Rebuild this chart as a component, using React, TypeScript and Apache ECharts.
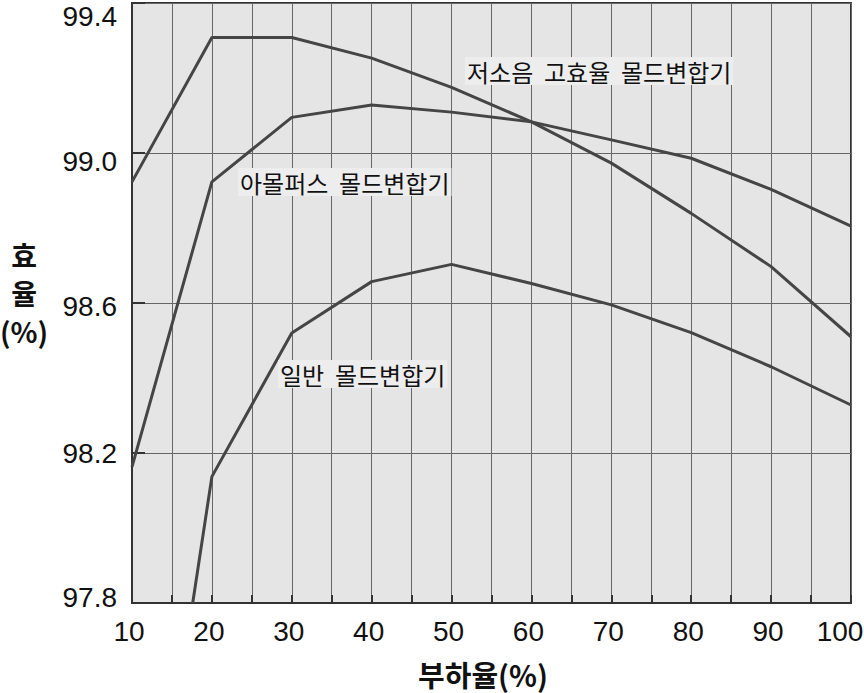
import React, { useEffect, useRef } from "react";
import * as echarts from "echarts";

// 부하율 (%)
const loadPct = [10, 20, 30, 40, 50, 60, 70, 80, 90, 100];
// 효율 (%)
const amorphous = [98.923, 99.308, 99.308, 99.253, 99.175, 99.083, 98.973, 98.839, 98.697, 98.51];
const lowNoise = [98.163, 98.923, 99.095, 99.128, 99.109, 99.083, 99.035, 98.986, 98.903, 98.805];
// 일반 몰드변합기: enters the chart at about 17.6 %
const generalStart = [17.6, 97.8];
const general = [null, 98.137, 98.52, 98.657, 98.703, 98.652, 98.595, 98.521, 98.43, 98.328];

const yTicks = [97.8, 98.2, 98.6, 99.0, 99.4];
const seriesNames = ["아몰퍼스 몰드변합기", "저소음 고효율 몰드변합기", "일반 몰드변합기"];

const pairs = (vals: (number | null)[]) =>
  loadPct.map((x, i) => [x, vals[i]]).filter((p) => p[1] !== null);

export default function App() {
  const ref = useRef<HTMLDivElement>(null);
  useEffect(() => {
    if (!ref.current) return;
    const chart = echarts.init(ref.current, undefined, { renderer: "svg" });
    const lineStyle = { color: "#454545", width: 3 };
    const labelFont = '"Liberation Sans", Arial, sans-serif';
    const krFont = '"Noto Sans CJK KR", sans-serif';
    const txt = (text: string, x: number, y: number) => ({
      type: "text",
      left: x,
      top: y,
      z: 100,
      style: {
        text,
        fill: "#111",
        font: `24px ${krFont}`,
        backgroundColor: "#ededed",
        padding: [2, 2, 2, 2],
      },
    });
    const nameStyle = {
      fontFamily: krFont,
      fontSize: 28,
      fontWeight: "bold",
      color: "#111",
      lineHeight: 38,
      align: "center",
    };
    chart.setOption({
      animation: false,
      backgroundColor: "#ffffff",
      grid: {
        left: 132,
        right: 13,
        top: 3,
        bottom: 90,
        show: true,
        outerBoundsMode: "none",
        containLabel: false,
        backgroundColor: "#e5e5e5",
        borderColor: "#333",
        borderWidth: 2,
      },
      xAxis: {
        type: "value",
        min: 10,
        max: 100,
        interval: 5,
        name: "부하율(%)",
        nameLocation: "middle",
        nameGap: 56,
        nameTextStyle: {
          fontFamily: krFont,
          fontSize: 29,
          fontWeight: "bold",
          color: "#111",
          lineHeight: 29,
          padding: [0, 17, 0, 0],
        },
        axisLine: { show: true, lineStyle: { color: "#333", width: 2 } },
        axisTick: { show: true, inside: true, length: 8, lineStyle: { color: "#333", width: 2 } },
        splitLine: { show: true, lineStyle: { color: "#666", width: 1 } },
        axisLabel: {
          margin: 14,
          fontFamily: labelFont,
          fontSize: 28,
          color: "#111",
          formatter: (v: number) => {
            if (v % 10 !== 0) return "";
            return v === 100 ? `{last|${v}}` : `{n|${v}}`;
          },
          rich: {
            n: { fontFamily: labelFont, fontSize: 28, color: "#111", padding: [0, 6, 0, 0] },
            last: { fontFamily: labelFont, fontSize: 28, color: "#111", padding: [0, 22, 0, 0] },
          },
        },
      },
      yAxis: {
        type: "value",
        min: 97.8,
        max: 99.4,
        name: "{n|효}\n{n|율}\n{n|(%)}\n{s|}",
        nameLocation: "middle",
        nameRotate: 0,
        nameGap: 108,
        nameTextStyle: {
          ...nameStyle,
          verticalAlign: "middle",
          rich: {
            n: nameStyle,
            s: { fontSize: 10, lineHeight: 20 },
          },
        },
        axisLine: { show: true, lineStyle: { color: "#333", width: 2 } },
        axisTick: {
          show: true,
          inside: true,
          length: 13,
          customValues: yTicks,
          lineStyle: { color: "#333", width: 2 },
        },
        splitLine: { show: true, lineStyle: { color: "#666", width: 1 } },
        axisLabel: {
          margin: 15,
          customValues: yTicks,
          fontFamily: labelFont,
          fontSize: 28,
          color: "#111",
          formatter: (v: number) => {
            const s = v.toFixed(1);
            if (Math.abs(v - 99.4) < 1e-6) return `{a|${s}}`;
            if (Math.abs(v - 99.0) < 1e-6) return `{b|${s}}`;
            if (Math.abs(v - 98.6) < 1e-6) return `{c|${s}}`;
            if (Math.abs(v - 97.8) < 1e-6) return `{e|${s}}`;
            return `{d|${s}}`;
          },
          rich: {
            a: { fontFamily: labelFont, fontSize: 28, color: "#111", padding: [26, 0, 0, 0] },
            b: { fontFamily: labelFont, fontSize: 28, color: "#111", padding: [16, 0, 0, 0] },
            c: { fontFamily: labelFont, fontSize: 28, color: "#111", padding: [6, 0, 0, 0] },
            d: { fontFamily: labelFont, fontSize: 28, color: "#111" },
            e: { fontFamily: labelFont, fontSize: 28, color: "#111", padding: [0, 0, 12, 0] },
          },
        },
      },
      series: [
        {
          name: seriesNames[0],
          type: "line",
          data: pairs(amorphous),
          showSymbol: false,
          symbol: "none",
          lineStyle,
          clip: true,
        },
        {
          name: seriesNames[1],
          type: "line",
          data: pairs(lowNoise),
          showSymbol: false,
          symbol: "none",
          lineStyle,
          clip: true,
        },
        {
          name: seriesNames[2],
          type: "line",
          data: [generalStart, ...pairs(general)],
          showSymbol: false,
          symbol: "none",
          lineStyle,
          clip: true,
        },
      ],
      graphic: [
        txt("저소음  고효율  몰드변합기", 465, 57),
        txt("아몰퍼스  몰드변합기", 238, 168),
        txt("일반  몰드변합기", 278, 360),
      ],
    });
    return () => chart.dispose();
  }, []);
  return (
    <div
      ref={ref}
      style={{ position: "absolute", left: 0, top: 0, width: 864, height: 693, background: "#fff" }}
    />
  );
}
